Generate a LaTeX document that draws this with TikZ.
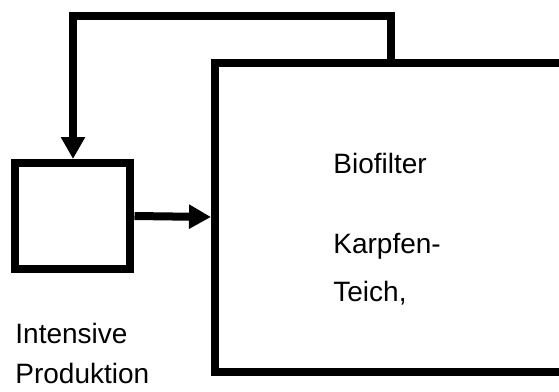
\documentclass[tikz,border=0pt]{standalone}
\usepackage{fontspec}
\setmainfont{Liberation Sans}
\usetikzlibrary{arrows.meta}
\begin{document}
\begin{tikzpicture}[x=0.5pt,y=-0.5pt,
  tank/.style={draw,line width=4pt,minimum width=#1},
  flow/.style={line width=4pt,-{Triangle[width=11.5pt,length=11pt]}},
  label/.style={anchor=base west,inner sep=0pt,font=\fontsize{14pt}{16pt}\selectfont}]
  % Frame
  \clip (0,0) rectangle (559,392);

  % Tanks
  \node[tank=57.5pt,minimum height=53pt] (prod) at (73,216) {};
  \node[tank=192.5pt,minimum height=154.5pt] (pond) at (407.5,217) {};

  % Flows
  \draw[flow] (prod.east) -- (pond.west);
  \coordinate (back) at (391.5,16);
  \draw[flow] (back |- pond.north) -- (back) -| (prod.north);

  % Labels
  \node[label] (bio) at (333,173) {Biofilter};
  \node[label] (karp) at (333,253) {Karpfen-};
  \node[label] (teich) at (333,301) {Teich,};
  \node[label] (int) at (15,343) {Intensive};
  \node[label] (pro) at (15,383) {Produktion};
\end{tikzpicture}
\end{document}
